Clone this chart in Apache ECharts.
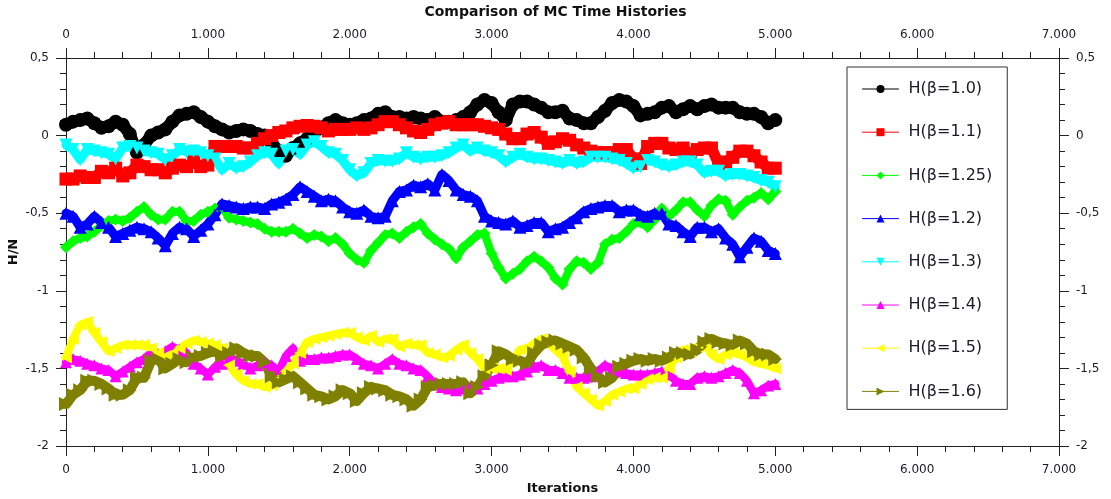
<!DOCTYPE html>
<html>
<head>
<meta charset="utf-8">
<title>Comparison of MC Time Histories</title>
<script src="https://cdn.jsdelivr.net/npm/echarts@6/dist/echarts.min.js"></script>
<style>
  html, body { margin: 0; padding: 0; background: #ffffff; }
  #chart { width: 1111px; height: 499px; }
</style>
</head>
<body>
<div id="chart"></div>
<script>
// Monte Carlo energy-per-site histories, sampled every STEP iterations
const STEP = 50;

const seriesNames = ['H(β=1.0)', 'H(β=1.1)', 'H(β=1.25)', 'H(β=1.2)', 'H(β=1.3)', 'H(β=1.4)', 'H(β=1.5)', 'H(β=1.6)'];

const hBeta10 = [
  0.07, 0.09, 0.10, 0.11, 0.08, 0.05, 0.06, 0.09, 0.07, 0.01,
  -0.11, -0.06, 0.00, 0.02, 0.04, 0.09, 0.13, 0.14, 0.15, 0.12,
  0.09, 0.06, 0.04, 0.02, 0.03, 0.04, 0.03, 0.01, 0.00, -0.05,
  -0.10, -0.13, -0.08, -0.05, -0.02, 0.02, 0.05, 0.08, 0.10, 0.08,
  0.07, 0.08, 0.10, 0.11, 0.14, 0.15, 0.12, 0.12, 0.11, 0.12,
  0.11, 0.10, 0.12, 0.09, 0.09, 0.10, 0.12, 0.15, 0.20, 0.23,
  0.21, 0.15, 0.10, 0.20, 0.22, 0.22, 0.20, 0.18, 0.15, 0.15,
  0.16, 0.11, 0.10, 0.08, 0.08, 0.12, 0.16, 0.21, 0.23, 0.22,
  0.19, 0.13, 0.14, 0.15, 0.18, 0.19, 0.15, 0.17, 0.19, 0.17,
  0.19, 0.20, 0.18, 0.18, 0.18, 0.15, 0.14, 0.14, 0.12, 0.08,
  0.10
];

const hBeta11 = [
  -0.28, -0.28, -0.26, -0.27, -0.27, -0.23, -0.24, -0.21, -0.26, -0.24,
  -0.19, -0.20, -0.22, -0.22, -0.24, -0.21, -0.19, -0.20, -0.17, -0.20,
  -0.19, -0.07, -0.07, -0.07, -0.07, -0.08, -0.08, -0.05, -0.02, 0.00,
  0.02, 0.03, 0.05, 0.06, 0.065, 0.06, 0.05, 0.03, 0.04, 0.04,
  0.04, 0.05, 0.04, 0.05, 0.07, 0.09, 0.09, 0.07, 0.05, 0.03,
  0.02, 0.04, 0.07, 0.08, 0.09, 0.07, 0.07, 0.07, 0.07, 0.06,
  0.05, 0.04, 0.01, -0.02, -0.02, 0.01, 0.02, -0.01, -0.05, -0.04,
  -0.02, -0.03, -0.06, -0.08, -0.10, -0.11, -0.11, -0.11, -0.09, -0.09,
  -0.15, -0.18, -0.07, -0.05, -0.05, -0.08, -0.09, -0.08, -0.12, -0.09,
  -0.08, -0.08, -0.18, -0.17, -0.14, -0.10, -0.10, -0.13, -0.17, -0.21,
  -0.21
];

const hBeta125 = [
  -0.72, -0.68, -0.66, -0.65, -0.62, -0.58, -0.55, -0.54, -0.55, -0.53,
  -0.49, -0.46, -0.51, -0.54, -0.54, -0.49, -0.49, -0.55, -0.55, -0.51,
  -0.49, -0.47, -0.46, -0.53, -0.54, -0.55, -0.56, -0.57, -0.60, -0.62,
  -0.62, -0.62, -0.60, -0.63, -0.66, -0.64, -0.65, -0.68, -0.66, -0.70,
  -0.76, -0.80, -0.82, -0.74, -0.69, -0.64, -0.63, -0.66, -0.62, -0.59,
  -0.57, -0.63, -0.67, -0.70, -0.73, -0.79, -0.72, -0.68, -0.64, -0.63,
  -0.76, -0.85, -0.92, -0.89, -0.86, -0.81, -0.78, -0.81, -0.85, -0.92,
  -0.96, -0.86, -0.81, -0.82, -0.86, -0.82, -0.70, -0.67, -0.66, -0.62,
  -0.57, -0.56, -0.59, -0.54, -0.47, -0.52, -0.48, -0.43, -0.43, -0.48,
  -0.52, -0.45, -0.41, -0.42, -0.51, -0.46, -0.42, -0.40, -0.37, -0.41,
  -0.36
];

const hBeta12 = [
  -0.50, -0.52, -0.59, -0.57, -0.52, -0.56, -0.59, -0.65, -0.63, -0.61,
  -0.59, -0.60, -0.62, -0.66, -0.71, -0.63, -0.59, -0.60, -0.65, -0.61,
  -0.57, -0.51, -0.44, -0.45, -0.46, -0.47, -0.46, -0.46, -0.47, -0.44,
  -0.43, -0.41, -0.38, -0.33, -0.36, -0.39, -0.42, -0.41, -0.42, -0.46,
  -0.49, -0.50, -0.48, -0.52, -0.53, -0.52, -0.42, -0.36, -0.35, -0.32,
  -0.33, -0.31, -0.35, -0.25, -0.29, -0.35, -0.38, -0.39, -0.42, -0.52,
  -0.55, -0.56, -0.57, -0.55, -0.59, -0.58, -0.56, -0.56, -0.62, -0.60,
  -0.59, -0.56, -0.53, -0.49, -0.47, -0.46, -0.45, -0.45, -0.49, -0.48,
  -0.48, -0.51, -0.52, -0.50, -0.50, -0.57, -0.58, -0.62, -0.65, -0.59,
  -0.59, -0.62, -0.60, -0.66, -0.70, -0.78, -0.72, -0.66, -0.68, -0.74,
  -0.76
];

const hBeta13 = [
  -0.06, -0.09, -0.155, -0.09, -0.10, -0.11, -0.12, -0.15, -0.08, -0.07,
  -0.08, -0.10, -0.11, -0.12, -0.155, -0.13, -0.09, -0.105, -0.10, -0.11,
  -0.13, -0.15, -0.22, -0.18, -0.21, -0.20, -0.17, -0.13, -0.11, -0.12,
  -0.18, -0.10, -0.09, -0.12, -0.06, -0.04, -0.07, -0.11, -0.12, -0.16,
  -0.22, -0.26, -0.24, -0.18, -0.16, -0.165, -0.165, -0.15, -0.11, -0.14,
  -0.15, -0.14, -0.14, -0.13, -0.11, -0.08, -0.06, -0.10, -0.08, -0.10,
  -0.11, -0.13, -0.17, -0.14, -0.12, -0.14, -0.15, -0.15, -0.16, -0.17,
  -0.18, -0.16, -0.18, -0.17, -0.14, -0.14, -0.14, -0.15, -0.16, -0.18,
  -0.21, -0.20, -0.16, -0.17, -0.19, -0.20, -0.19, -0.17, -0.17, -0.19,
  -0.24, -0.23, -0.23, -0.26, -0.25, -0.25, -0.26, -0.27, -0.29, -0.30,
  -0.33
];

const hBeta14 = [
  -1.46, -1.44, -1.45, -1.47, -1.48, -1.50, -1.51, -1.55, -1.52, -1.49,
  -1.46, -1.44, -1.40, -1.41, -1.39, -1.36, -1.38, -1.40, -1.47, -1.50,
  -1.54, -1.49, -1.47, -1.43, -1.45, -1.47, -1.50, -1.48, -1.46, -1.48,
  -1.52, -1.42, -1.37, -1.45, -1.44, -1.44, -1.43, -1.43, -1.42, -1.41,
  -1.41, -1.44, -1.47, -1.48, -1.50, -1.47, -1.44, -1.47, -1.48, -1.50,
  -1.51, -1.55, -1.60, -1.62, -1.63, -1.64, -1.63, -1.62, -1.63, -1.60,
  -1.58, -1.56, -1.55, -1.55, -1.54, -1.52, -1.49, -1.48, -1.51, -1.51,
  -1.53, -1.56, -1.56, -1.56, -1.55, -1.52, -1.48, -1.50, -1.52, -1.53,
  -1.54, -1.54, -1.54, -1.53, -1.52, -1.54, -1.58, -1.60, -1.60, -1.56,
  -1.55, -1.56, -1.55, -1.53, -1.51, -1.53, -1.58, -1.66, -1.64, -1.61,
  -1.60
];

const hBeta15 = [
  -1.43, -1.31, -1.22, -1.20, -1.27, -1.33, -1.39, -1.37, -1.35, -1.35,
  -1.35, -1.35, -1.37, -1.40, -1.42, -1.40, -1.37, -1.34, -1.32, -1.33,
  -1.34, -1.35, -1.37, -1.48, -1.54, -1.58, -1.60, -1.60, -1.62, -1.61,
  -1.56, -1.52, -1.47, -1.40, -1.33, -1.31, -1.30, -1.29, -1.28, -1.27,
  -1.27, -1.30, -1.32, -1.29, -1.33, -1.31, -1.31, -1.36, -1.34, -1.35,
  -1.35, -1.40, -1.41, -1.43, -1.42, -1.38, -1.35, -1.40, -1.44, -1.50,
  -1.50, -1.50, -1.51, -1.45, -1.38, -1.37, -1.34, -1.31, -1.34, -1.38,
  -1.42, -1.52, -1.62, -1.66, -1.70, -1.74, -1.71, -1.67, -1.65, -1.63,
  -1.63, -1.60, -1.57, -1.56, -1.56, -1.50, -1.43, -1.38, -1.39, -1.36,
  -1.33, -1.41, -1.44, -1.41, -1.40, -1.41, -1.43, -1.46, -1.47, -1.48,
  -1.50
];

const hBeta16 = [
  -1.73, -1.67, -1.64, -1.58, -1.58, -1.60, -1.63, -1.67, -1.67, -1.64,
  -1.56, -1.56, -1.45, -1.44, -1.50, -1.47, -1.44, -1.46, -1.43, -1.42,
  -1.40, -1.39, -1.42, -1.40, -1.37, -1.40, -1.42, -1.42, -1.46, -1.55,
  -1.59, -1.57, -1.55, -1.59, -1.63, -1.67, -1.68, -1.70, -1.68, -1.64,
  -1.66, -1.71, -1.66, -1.62, -1.63, -1.64, -1.67, -1.68, -1.70, -1.74,
  -1.70, -1.62, -1.61, -1.60, -1.60, -1.60, -1.59, -1.66, -1.62, -1.55,
  -1.48, -1.39, -1.41, -1.44, -1.45, -1.47, -1.40, -1.35, -1.33, -1.32,
  -1.34, -1.36, -1.38, -1.43, -1.50, -1.55, -1.59, -1.56, -1.49, -1.47,
  -1.45, -1.44, -1.45, -1.44, -1.45, -1.43, -1.40, -1.40, -1.41, -1.38,
  -1.33, -1.31, -1.33, -1.34, -1.35, -1.32, -1.34, -1.39, -1.41, -1.41,
  -1.44
];

const seriesValues = [hBeta10, hBeta11, hBeta125, hBeta12, hBeta13, hBeta14, hBeta15, hBeta16];

// marker style per history; the band is a thick trace under dense markers
const markerStyles = [
  { color: '#000000', symbol: 'circle',   size: 14, band: 12, rotate: 0 },
  { color: '#ff0000', symbol: 'rect',     size: 13, band: 11, rotate: 0 },
  { color: '#00ff00', symbol: 'diamond',  size: 12, band: 8,  rotate: 0 },
  { color: '#0000ff', symbol: 'triangle', size: 13, band: 9,  rotate: 0 },
  { color: '#00ffff', symbol: 'triangle', size: 13, band: 9,  rotate: 180 },
  { color: '#ff00ff', symbol: 'triangle', size: 12, band: 8,  rotate: 0 },
  { color: '#ffff00', symbol: 'triangle', size: 12, band: 8,  rotate: 90 },
  { color: '#808000', symbol: 'triangle', size: 14, band: 10, rotate: -90 }
];

const FONT = 'DejaVu Sans';
const TEXT = '#1a1a2a';

function fmtThousands(v) {
  if (Math.abs(v) < 1000) return String(v);
  const k = Math.floor(v / 1000);
  return k + '.' + String(v % 1000).padStart(3, '0');
}
function fmtDecimalComma(v) {
  return String(+v.toFixed(2)).replace('.', ',');
}

function xAxisOf(position, margin) {
  return {
    type: 'value', min: 0, max: 7000, interval: 1000, position: position,
    axisLine: { onZero: false, lineStyle: { color: '#222', width: 1 } },
    axisTick: { length: 10, lineStyle: { color: '#222' } },
    minorTick: { show: true, splitNumber: 5, length: 6, lineStyle: { color: '#222' } },
    splitLine: { show: false },
    minorSplitLine: { show: false },
    axisLabel: { formatter: fmtThousands, color: TEXT, fontFamily: FONT, fontSize: 12, margin: margin }
  };
}
function yAxisOf(position) {
  return {
    type: 'value', min: -2, max: 0.5, interval: 0.5, position: position,
    axisLine: { onZero: false, lineStyle: { color: '#222', width: 1 } },
    axisTick: { length: 10, lineStyle: { color: '#222' } },
    minorTick: { show: true, splitNumber: 5, length: 6, lineStyle: { color: '#222' } },
    splitLine: { show: false },
    minorSplitLine: { show: false },
    axisLabel: { formatter: fmtDecimalComma, color: TEXT, fontFamily: FONT, fontSize: 12, margin: 17 }
  };
}

const series = seriesNames.map((name, k) => {
  const m = markerStyles[k];
  return {
    name: name,
    type: 'line',
    xAxisIndex: 0,
    yAxisIndex: 0,
    data: seriesValues[k].map((v, i) => [i * STEP, v]),
    symbol: m.symbol,
    symbolSize: m.size,
    symbolRotate: m.rotate,
    showSymbol: true,
    showAllSymbol: true,
    lineStyle: { color: m.color, width: m.band, join: 'round', cap: 'round' },
    itemStyle: { color: m.color, borderWidth: 0 },
    emphasis: { disabled: true },
    animation: false
  };
});

const bottomX = Object.assign(xAxisOf('bottom', 18), {
  name: 'Iterations', nameLocation: 'middle', nameGap: 36, nameMoveOverlap: false,
  nameTextStyle: { fontFamily: FONT, fontSize: 13, fontWeight: 'bold', color: '#111' }
});
const leftY = Object.assign(yAxisOf('left'), {
  name: 'H/N', nameLocation: 'middle', nameGap: 46, nameRotate: 90, nameMoveOverlap: false,
  nameTextStyle: { fontFamily: FONT, fontSize: 13, fontWeight: 'bold', color: '#111' }
});

const chart = echarts.init(document.getElementById('chart'), null, { renderer: 'canvas' });
chart.setOption({
  backgroundColor: '#ffffff',
  animation: false,
  title: {
    text: 'Comparison of MC Time Histories',
    left: 'center', top: 0,
    textStyle: { fontFamily: FONT, fontSize: 14, fontWeight: 'bold', color: '#111' }
  },
  grid: { left: 66, right: 52, top: 58, bottom: 53, containLabel: false, outerBoundsMode: 'none' },
  legend: {
    orient: 'vertical',
    left: 847, top: 67,
    padding: [14, 15, 10, 15],
    itemWidth: 36, itemHeight: 10, itemGap: 27.2,
    borderColor: '#333', borderWidth: 1,
    backgroundColor: '#ffffff',
    lineStyle: { width: 1 },
    textStyle: { fontFamily: FONT, fontSize: 16, color: TEXT, padding: [0, 0, 0, 5] },
    data: seriesNames,
    selectedMode: false
  },
  xAxis: [bottomX, xAxisOf('top', 17)],
  yAxis: [leftY, yAxisOf('right')],
  series: series
});
</script>
</body>
</html>
